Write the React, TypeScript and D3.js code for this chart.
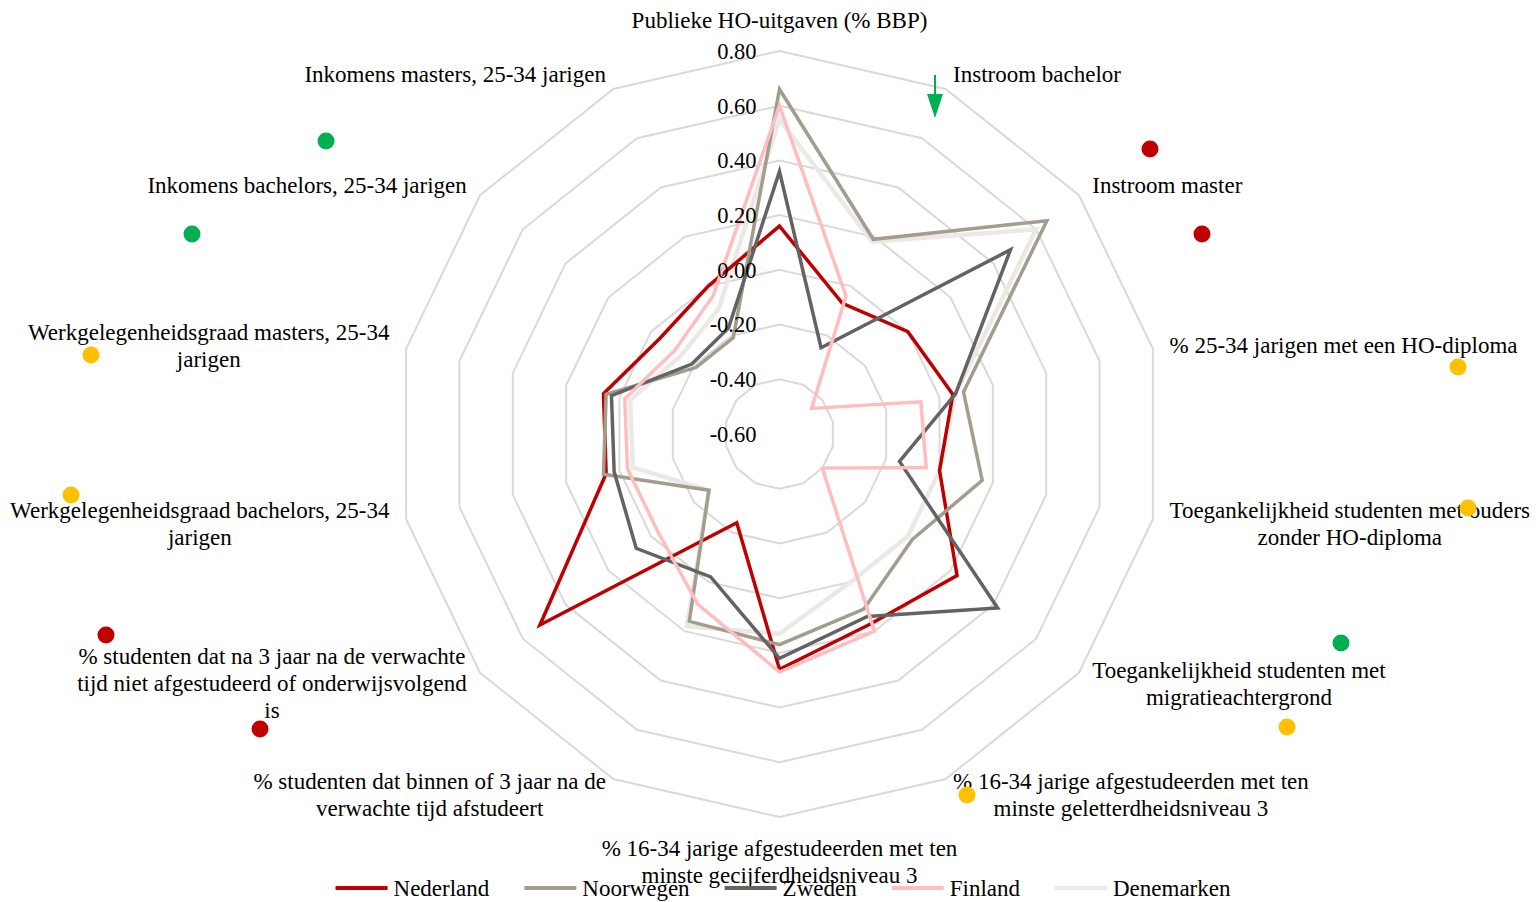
import React, { useEffect, useRef } from 'react';
import * as d3 from 'd3';

// indicator labels, clockwise from the top
const categories = [
  'Publieke HO-uitgaven (% BBP)',
  'Instroom bachelor',
  'Instroom master',
  '% 25-34 jarigen met een HO-diploma',
  'Toegankelijkheid studenten met ouders\nzonder HO-diploma',
  'Toegankelijkheid studenten met\nmigratieachtergrond',
  '% 16-34 jarige afgestudeerden met ten\nminste geletterdheidsniveau 3',
  '% 16-34 jarige afgestudeerden met ten\nminste gecijferdheidsniveau 3',
  '% studenten dat binnen of 3 jaar na de\nverwachte tijd afstudeert',
  '% studenten dat na 3 jaar na de verwachte\ntijd niet afgestudeerd of onderwijsvolgend\nis',
  'Werkgelegenheidsgraad bachelors, 25-34\njarigen',
  'Werkgelegenheidsgraad masters, 25-34\njarigen',
  'Inkomens bachelors, 25-34 jarigen',
  'Inkomens masters, 25-34 jarigen',
];

const nederland = [0.16, -0.07, 0.0, 0.05, 0.0, 0.23, 0.17, 0.26, -0.24, 0.52, 0.05, 0.06, -0.04, 0.0];
const noorwegen = [0.66, 0.19, 0.65, 0.09, 0.16, 0.02, 0.11, 0.17, 0.16, -0.27, 0.06, 0.05, -0.21, -0.21];
const zweden = [0.36, -0.25, 0.48, 0.06, -0.15, 0.42, 0.14, 0.22, -0.02, 0.07, 0.02, 0.03, -0.19, -0.17];
const finland = [0.6, -0.04, -0.45, -0.07, -0.05, -0.4, 0.2, 0.27, 0.09, -0.03, -0.03, -0.02, -0.11, -0.04];
const denemarken = [0.55, 0.18, 0.6, 0.06, 0.0, 0.0, 0.0, 0.13, 0.18, -0.27, -0.05, -0.04, -0.14, -0.09];

const seriesNames = ['Nederland', 'Noorwegen', 'Zweden', 'Finland', 'Denemarken'];
const seriesValues = [nederland, noorwegen, zweden, finland, denemarken];

const tickValues = [-0.6, -0.4, -0.2, 0.0, 0.2, 0.4, 0.6, 0.8];

// traffic-light markers placed next to the indicator labels
const markerStatus = ['green', 'green', 'yellow', 'yellow', 'red', 'red', 'red', 'red', 'yellow', 'yellow', 'green', 'yellow', 'yellow'];

const colors: Record<string, string> = {
  Nederland: '#c00000',
  Noorwegen: '#a49c8c',
  Zweden: '#636363',
  Finland: '#ffbdbd',
  Denemarken: '#ebe9e5',
};
const statusColors: Record<string, string> = { green: '#00b050', red: '#c00000', yellow: '#ffc000' };
const markerPos = [
  [326, 141], [192, 234], [91, 355], [71, 495], [106, 635], [260, 729],
  [1150, 149], [1202, 234], [1458, 367], [1468, 508], [1341, 643], [1287, 727], [967, 795],
];

const W = 1540;
const H = 902;
const cx = 779.5;
const cy = 434;
const R = 383;
const FONT = '"Liberation Serif", "Times New Roman", serif';

export default function App() {
  const ref = useRef<SVGSVGElement>(null);

  useEffect(() => {
    const svg = d3.select(ref.current);
    svg.selectAll('*').remove();

    const n = categories.length;
    const angle = (i: number) => (i * 2 * Math.PI) / n;
    const r = d3.scaleLinear().domain([-0.6, 0.8]).range([0, R]);

    const g = svg.append('g').attr('transform', `translate(${cx},${cy})`);

    // grid polygons
    const grid = d3.lineRadial<number>().angle((_, i) => angle(i)).curve(d3.curveLinearClosed);
    tickValues.slice(1).forEach((t) => {
      g.append('path')
        .attr('d', grid.radius(() => r(t))(d3.range(n)))
        .attr('fill', 'none')
        .attr('stroke', '#d9d9d9')
        .attr('stroke-width', 2);
    });

    // series, Denemarken underneath
    const line = d3
      .lineRadial<number>()
      .angle((_, i) => angle(i))
      .radius((d) => r(d))
      .curve(d3.curveLinearClosed);
    const order = [4, 0, 1, 2, 3];
    order.forEach((k) => {
      g.append('path')
        .attr('d', line(seriesValues[k]))
        .attr('fill', 'none')
        .attr('stroke', colors[seriesNames[k]])
        .attr('stroke-width', k === 4 ? 4.5 : 3.5)
        .attr('stroke-linejoin', 'miter');
    });

    // radial tick labels (plain hyphen like the original)
    const fmt = d3.format('.2f');
    g.selectAll('text.tick')
      .data(tickValues)
      .join('text')
      .attr('class', 'tick')
      .attr('x', -23)
      .attr('y', (d) => -r(d))
      .attr('dy', '0.35em')
      .attr('text-anchor', 'end')
      .style('font-family', FONT)
      .style('font-size', '22.5px')
      .attr('fill', '#000')
      .text((d) => fmt(d).replace('\u2212', '-'));

    // category labels
    const d0 = 400;
    const lh = 27;
    categories.forEach((label, i) => {
      const a = angle(i);
      const px = cx + d0 * Math.sin(a);
      const py = cy - d0 * Math.cos(a);
      const lines = label.split('\n');
      const t = svg
        .append('text')
        .style('font-family', FONT)
        .style('font-size', '23px')
        .attr('fill', '#000')
        .attr('text-anchor', 'middle');
      const spans = lines.map((s) => t.append('tspan').text(s));
      const widths = spans.map((s) => (s.node() as SVGTSpanElement).getComputedTextLength());
      const bw = d3.max(widths) || 0;
      const s = Math.sin(a);
      let xc = px;
      if (i !== 0 && i !== 7) xc = s > 0 ? px + bw / 2 : px - bw / 2;
      spans.forEach((sp, j) => {
        let y;
        if (i === 0) y = py - 14 - (lines.length - 1 - j) * lh;
        else if (i === 7) y = py + 14 + j * lh;
        else y = py + (j - (lines.length - 1) / 2) * lh;
        sp.attr('x', xc).attr('y', y).attr('dy', '0.35em');
      });
    });

    // green arrow at Instroom bachelor
    svg.append('line')
      .attr('x1', 935).attr('y1', 75).attr('x2', 935).attr('y2', 95)
      .attr('stroke', '#00b050').attr('stroke-width', 2);
    svg.append('path')
      .attr('d', 'M927,94 L943,94 L935,118 Z')
      .attr('fill', '#00b050');

    // status markers
    svg.selectAll('circle.marker')
      .data(markerStatus)
      .join('circle')
      .attr('class', 'marker')
      .attr('cx', (_, i) => markerPos[i][0])
      .attr('cy', (_, i) => markerPos[i][1])
      .attr('r', 8.5)
      .attr('fill', (d) => statusColors[d]);

    // legend
    const lg = svg.append('g');
    const items = seriesNames.map((name) => {
      const it = lg.append('g');
      it.append('line')
        .attr('x1', 0).attr('x2', 52).attr('y1', 0).attr('y2', 0)
        .attr('stroke', colors[name]).attr('stroke-width', 4);
      const tx = it.append('text')
        .attr('x', 58).attr('dy', '0.35em')
        .style('font-family', FONT).style('font-size', '23px')
        .attr('fill', '#000')
        .text(name);
      return { it, w: 58 + (tx.node() as SVGTextElement).getComputedTextLength() };
    });
    const gap = 35;
    const total = d3.sum(items, (d) => d.w) + gap * (items.length - 1);
    let x = 783 - total / 2;
    items.forEach((d) => {
      d.it.attr('transform', `translate(${x},888)`);
      x += d.w + gap;
    });
  }, []);

  return (
    <div style={{ position: 'absolute', left: 0, top: 0 }}>
      <svg ref={ref} width={W} height={H} style={{ display: 'block', background: '#fff' }} />
    </div>
  );
}
